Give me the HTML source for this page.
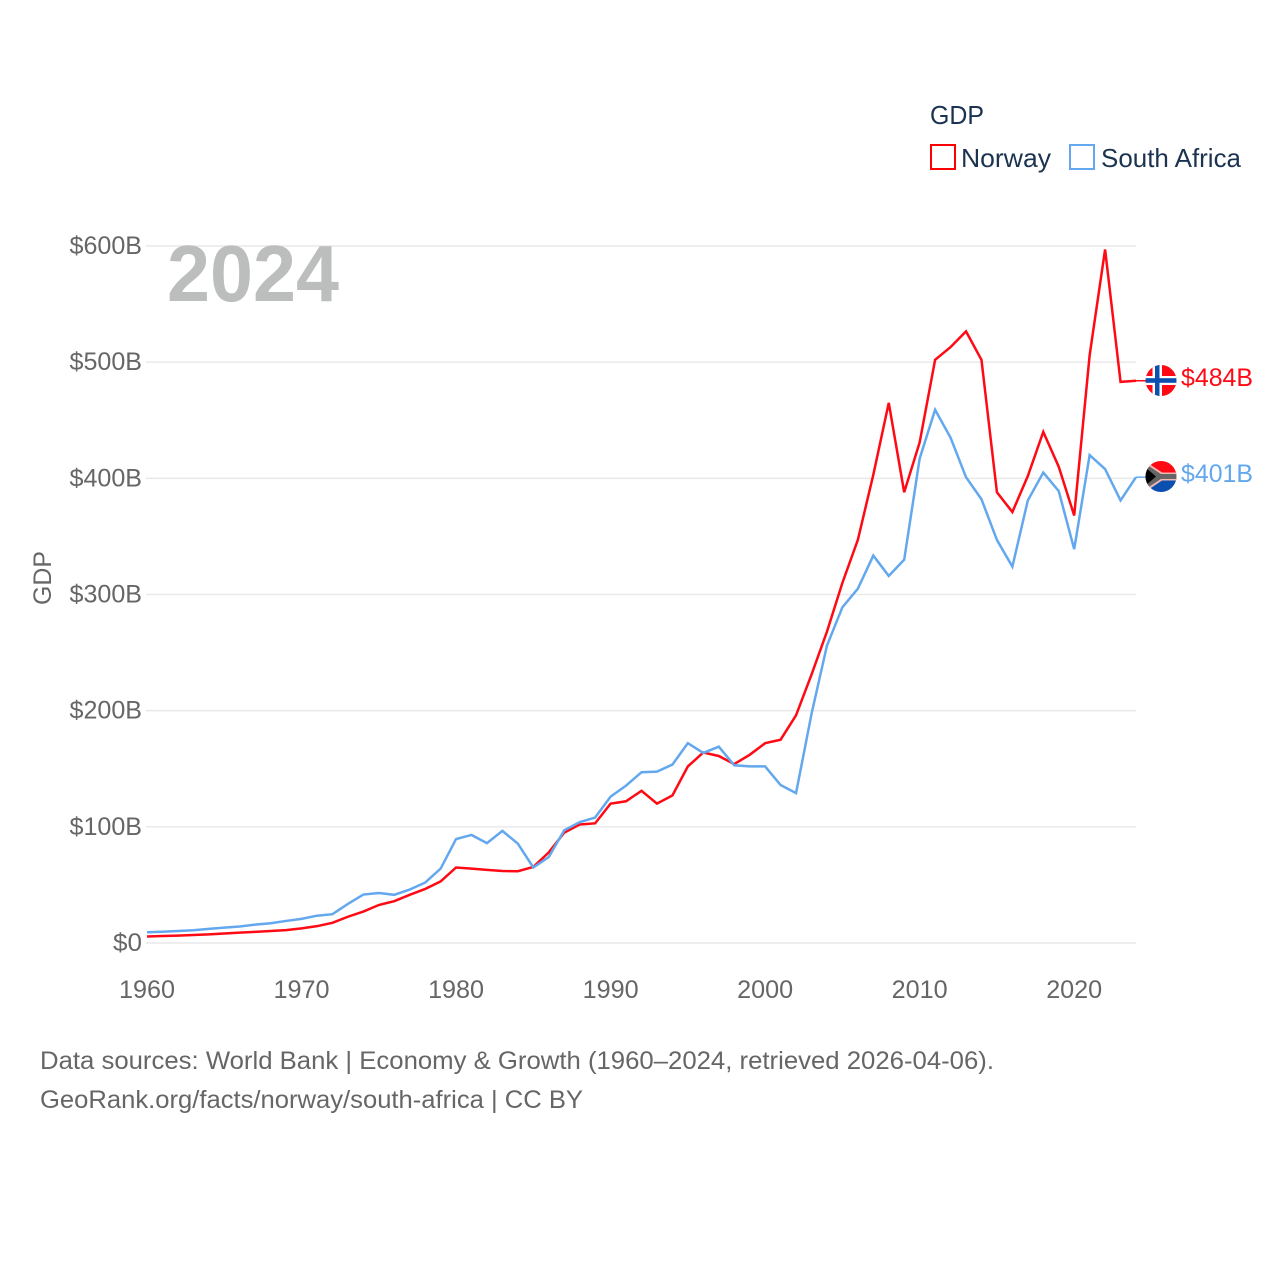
<!DOCTYPE html>
<html lang="en">
<head>
<meta charset="utf-8">
<title>GDP: Norway and South Africa</title>
<style>
html,body{margin:0;padding:0;background:#fff;width:1280px;height:1280px;overflow:hidden}
svg{display:block}
text{font-family:"Liberation Sans","DejaVu Sans",sans-serif}
</style>
</head>
<body>
<svg id="chart" xmlns="http://www.w3.org/2000/svg" width="1280" height="1280" viewBox="0 0 1280 1280">
  <defs>
    <clipPath id="clip-no"><circle cx="1161" cy="380.5" r="15.5"/></clipPath>
    <clipPath id="clip-za"><circle cx="1161" cy="476.5" r="15.5"/></clipPath>
  </defs>
  <rect x="0" y="0" width="1280" height="1280" fill="#ffffff"/>
  <g id="grid"></g>
  <text x="167" y="301" font-size="80" font-weight="700" fill="#bcbebd" textLength="172" lengthAdjust="spacingAndGlyphs">2024</text>
  <g id="y-ticks"></g>
  <g id="x-ticks"></g>
  <text transform="translate(51,578) rotate(-90)" text-anchor="middle" font-size="25" fill="#666666" textLength="54" lengthAdjust="spacingAndGlyphs">GDP</text>
  <g id="series"></g>

  <g>
    <text x="930" y="124" font-size="26" fill="#1b3350" textLength="54" lengthAdjust="spacingAndGlyphs">GDP</text>
    <rect x="931" y="145" width="24" height="24" fill="none" stroke="#ff0000" stroke-width="2"/>
    <text x="961" y="167" font-size="26" fill="#1b3350" textLength="90" lengthAdjust="spacingAndGlyphs">Norway</text>
    <rect x="1070" y="145" width="24" height="24" fill="none" stroke="#63a8ee" stroke-width="2"/>
    <text x="1101" y="167" font-size="26" fill="#1b3350" textLength="140" lengthAdjust="spacingAndGlyphs">South Africa</text>
  </g>

  <g clip-path="url(#clip-no)">
    <rect x="1145" y="365" width="32" height="31" fill="#ff0a14"/>
    <rect x="1152.5" y="365" width="9.5" height="31" fill="#ffffff"/>
    <rect x="1145" y="376" width="32" height="9" fill="#ffffff"/>
    <rect x="1155" y="365" width="4.5" height="31" fill="#0b50b0"/>
    <rect x="1145" y="378.2" width="32" height="4.6" fill="#0b50b0"/>
  </g>
  <g clip-path="url(#clip-za)">
    <rect x="1145" y="461" width="32" height="15.5" fill="#ff0a14"/>
    <rect x="1145" y="476.5" width="32" height="16" fill="#0b50b0"/>
    <path d="M1145 461 L1162 472.5 L1177 472.5 L1177 480.5 L1162 480.5 L1145 492 Z" fill="#f4b6b0"/>
    <path d="M1145 463.5 L1161 474 L1177 474 L1177 479 L1161 479 L1145 489.5 Z" fill="#666666"/>
    <path d="M1145 467 L1156 476.5 L1145 486 Z" fill="#000000"/>
  </g>
  <text x="1181" y="386" font-size="25" fill="#ff0a14" textLength="72" lengthAdjust="spacingAndGlyphs">$484B</text>
  <text x="1181" y="482" font-size="25" fill="#63a8ee" textLength="72" lengthAdjust="spacingAndGlyphs">$401B</text>

  <text x="40" y="1069" font-size="25" fill="#666666" textLength="954" lengthAdjust="spacingAndGlyphs">Data sources: World Bank | Economy &amp; Growth (1960–2024, retrieved 2026-04-06).</text>
  <text x="40" y="1108" font-size="25" fill="#666666" textLength="543" lengthAdjust="spacingAndGlyphs">GeoRank.org/facts/norway/south-africa | CC BY</text>
</svg>
<script>
const startYear = 1960;
const norwayGdp = [5.6,6,6.4,6.9,7.4,8.2,8.9,9.6,10.3,11.1,12.6,14.5,17.4,22.6,27.1,32.7,36,41.5,46.5,53,65,64,63,62,61.8,65.5,78,95,102,103,120,122,131,120,127,152,164,161,154,162,172,175,196,231,268,310,347,403,465,388,431,502,513,526.5,502,388,371,402,440,410,368,506,597,483,484];
const southAfricaGdp = [9.3,9.7,10.3,11,12.2,13.2,14.2,15.8,17,19,20.8,23.5,24.8,33.6,41.7,43,41.5,46,52,64,89.5,93,86,96.5,85.5,65,74,97,104,108,126,135.5,147,147.5,153.6,172,163.6,169,153,152,152,136,129,197,256,289,305,333.5,316,330,417,459,435,401,382,347,324,381,405,389,339,420,408,381,401];
const yTickValues = [0,100,200,300,400,500,600];
const yTickLabels = ['$0','$100B','$200B','$300B','$400B','$500B','$600B'];
const xTickValues = [1960,1970,1980,1990,2000,2010,2020];

const SVG_NS = 'http://www.w3.org/2000/svg';
function xScale(year) { return 147 + (year - 1960) * (1136 - 147) / 64; }
function yScale(value) { return 943 - value * (943 - 246) / 600; }

const gridGroup = document.getElementById('grid');
const yTickGroup = document.getElementById('y-ticks');
const xTickGroup = document.getElementById('x-ticks');
const seriesGroup = document.getElementById('series');

yTickValues.forEach(function (v, i) {
  const line = document.createElementNS(SVG_NS, 'line');
  
  
  line.setAttribute('x1', 146);
  line.setAttribute('x2', 1136);
  line.setAttribute('y1', yScale(v));
  line.setAttribute('y2', yScale(v));
  line.setAttribute('stroke', '#e9e9e9');
  line.setAttribute('stroke-width', '1.5');
  gridGroup.appendChild(line);

  const label = document.createElementNS(SVG_NS, 'text');
  
  
  label.setAttribute('x', 142);
  label.setAttribute('y', yScale(v) + 8);
  label.setAttribute('text-anchor', 'end');
  label.setAttribute('font-size', '25');
  label.setAttribute('fill', '#666666');
  label.setAttribute('textLength', yTickLabels[i].length * 14.5);
  label.setAttribute('lengthAdjust', 'spacingAndGlyphs');
  label.textContent = yTickLabels[i];
  yTickGroup.appendChild(label);
});

xTickValues.forEach(function (year) {
  const label = document.createElementNS(SVG_NS, 'text');
  
  
  label.setAttribute('x', xScale(year));
  label.setAttribute('y', 998);
  label.setAttribute('text-anchor', 'middle');
  label.setAttribute('font-size', '25');
  label.setAttribute('fill', '#666666');
  label.setAttribute('textLength', '56');
  label.setAttribute('lengthAdjust', 'spacingAndGlyphs');
  label.textContent = String(year);
  xTickGroup.appendChild(label);
});

function pointsFor(values) {
  return values.map(function (v, i) {
    return xScale(startYear + i).toFixed(2) + ',' + yScale(v).toFixed(2);
  });
}

const norwayLine = document.createElementNS(SVG_NS, 'polyline');


norwayLine.setAttribute('points', pointsFor(norwayGdp).join(' '));
norwayLine.setAttribute('fill', 'none');
norwayLine.setAttribute('stroke', '#ff0a14');
norwayLine.setAttribute('stroke-width', '2.5');
norwayLine.setAttribute('stroke-linejoin', 'miter');
seriesGroup.appendChild(norwayLine);

const southAfricaLine = document.createElementNS(SVG_NS, 'polyline');


southAfricaLine.setAttribute('points', pointsFor(southAfricaGdp).join(' '));
southAfricaLine.setAttribute('fill', 'none');
southAfricaLine.setAttribute('stroke', '#63a8ee');
southAfricaLine.setAttribute('stroke-width', '2.5');
southAfricaLine.setAttribute('stroke-linejoin', 'miter');
seriesGroup.appendChild(southAfricaLine);

const norwayConnector = document.createElementNS(SVG_NS, 'line');


norwayConnector.setAttribute('x1', xScale(2024));
norwayConnector.setAttribute('x2', 1146);
norwayConnector.setAttribute('y1', yScale(norwayGdp[norwayGdp.length - 1]));
norwayConnector.setAttribute('y2', yScale(norwayGdp[norwayGdp.length - 1]));
norwayConnector.setAttribute('stroke', '#ff0a14');
norwayConnector.setAttribute('stroke-width', '1.5');
seriesGroup.appendChild(norwayConnector);

const southAfricaConnector = document.createElementNS(SVG_NS, 'line');


southAfricaConnector.setAttribute('x1', xScale(2024));
southAfricaConnector.setAttribute('x2', 1146);
southAfricaConnector.setAttribute('y1', yScale(southAfricaGdp[southAfricaGdp.length - 1]));
southAfricaConnector.setAttribute('y2', yScale(southAfricaGdp[southAfricaGdp.length - 1]));
southAfricaConnector.setAttribute('stroke', '#63a8ee');
southAfricaConnector.setAttribute('stroke-width', '1.5');
seriesGroup.appendChild(southAfricaConnector);
</script>
</body>
</html>
